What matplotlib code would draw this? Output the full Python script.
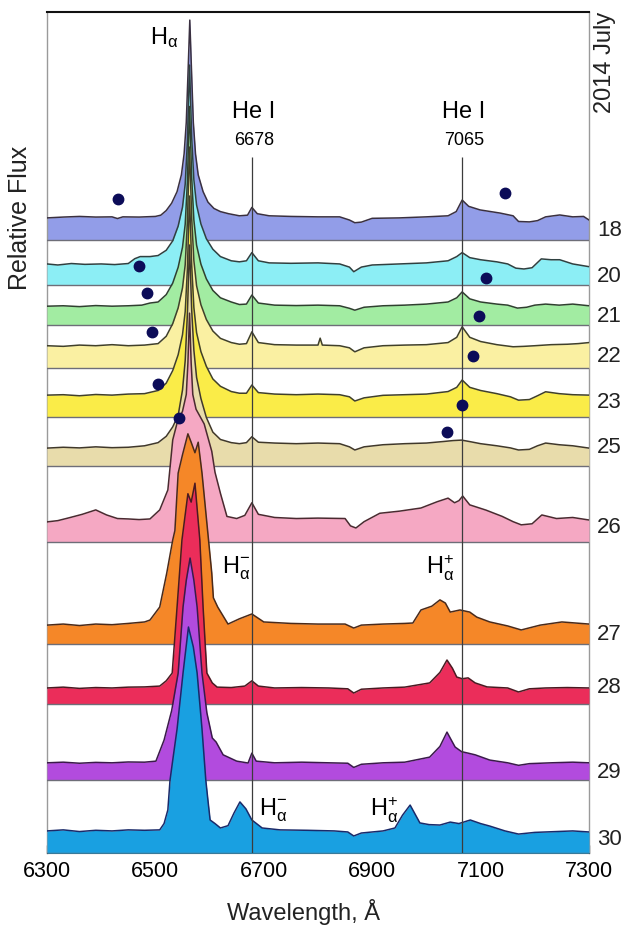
import matplotlib
matplotlib.use('Agg')
import matplotlib.pyplot as plt
from matplotlib.transforms import blended_transform_factory
from matplotlib.ticker import MultipleLocator

FONT = ['Liberation Sans Narrow', 'Liberation Sans', 'DejaVu Sans']
plt.rcParams['font.family'] = FONT
plt.rcParams['mathtext.fontset'] = 'custom'
plt.rcParams['mathtext.rm'] = 'Liberation Sans'
plt.rcParams['mathtext.it'] = 'Liberation Sans'
plt.rcParams['mathtext.sf'] = 'Liberation Sans'

# ---------------- data ----------------
DATES = ['18', '20', '21', '22', '23', '25', '26', '27', '28', '29', '30']
BASELINES = [29.16, 27.02, 25.11, 23.08, 20.75, 18.42, 14.81, 9.94, 7.09, 3.47, 0.0]
LABEL_Y = [29.63, 27.41, 25.54, 23.64, 21.41, 19.27, 15.48, 10.37, 7.85, 3.85, 0.62]
FILL_COLORS = ['#929de8', '#8ceef5', '#a2eca2', '#faf0a2', '#faec48', '#e8dcab',
               '#f5a8c3', '#f58728', '#eb2d5a', '#b24bde', '#19a0e1']
EDGE_COLORS = ['#3a3040', '#2f4040', '#2f402f', '#40402a', '#40402a', '#40382a',
               '#4a2a30', '#4a2a1a', '#4a1a22', '#3a1a4a', '#1a2a6a']

W18 = [6300,6330,6360,6390,6420,6430,6440,6470,6500,6510,6520,6530,6540,6548,6553,6557,6560,6563.5,6567,6570,
       6574,6579,6588,6597,6608,6620,6635,6655,6670,6678,6688,6710,6750,6800,6840,6858,6868,6880,6900,6950,
       7000,7040,7055,7066,7078,7099,7136,7160,7170,7190,7205,7220,7246,7270,7290,7300]
F18 = [1.05,1.09,1.12,1.09,1.10,1.02,1.10,1.09,1.12,1.18,1.40,1.75,2.30,3.10,4.10,5.60,7.80,10.46,7.80,5.60,
       4.10,3.10,2.30,1.80,1.50,1.35,1.25,1.15,1.18,1.55,1.25,1.15,1.12,1.10,1.10,0.95,0.82,0.85,1.03,1.05,
       1.10,1.15,1.35,1.90,1.60,1.43,1.28,1.15,0.88,0.86,0.92,1.10,1.19,1.10,1.12,0.95]

# H-alpha segment wavelengths shared by the 20..25 July spectra
HA_W = [6505,6520,6532,6542,6550,6555,6559,6563,6567,6571,6576,6584,6594,6606,6620,6640]

W20_L = [6300,6320,6345,6370,6400,6425,6450,6462,6472,6490]
F20_L = [1.00,0.95,1.02,0.98,1.00,0.97,1.02,1.25,1.35,1.35]
F20_HA = [1.40,1.65,2.10,2.80,3.70,4.80,6.80,10.46,7.00,5.00,3.80,2.90,2.20,1.70,1.35,1.15]
W20_R = [6655,6668,6678,6690,6710,6750,6800,6840,6858,6866,6880,6900,6950,7000,7040,7056,7066,7080,7100,7130,
         7150,7165,7180,7195,7212,7230,7246,7270,7300]
F20_R = [1.10,1.15,1.54,1.15,1.05,1.03,1.05,1.00,0.85,0.63,0.85,0.95,1.00,1.05,1.15,1.35,1.54,1.30,1.20,1.10,
         1.00,0.80,0.76,0.82,1.24,1.20,1.20,1.00,0.87]

W21_L = [6300,6330,6360,6390,6420,6450,6475,6490]
F21_L = [0.90,0.92,0.88,0.93,0.90,0.92,0.95,1.05]
F21_HA = [1.10,1.45,2.00,2.75,3.70,4.80,6.80,10.40,7.00,5.00,3.80,2.90,2.20,1.65,1.30,1.10]
W21_R = [6655,6668,6678,6690,6720,6760,6800,6840,6858,6868,6885,6920,6960,7000,7040,7056,7066,7080,7100,7130,
         7150,7168,7185,7200,7220,7245,7270,7300]
F21_R = [0.98,1.00,1.43,1.05,0.95,0.93,0.95,0.92,0.80,0.71,0.85,0.92,0.95,1.00,1.10,1.30,1.58,1.25,1.10,1.00,
         0.95,0.81,0.85,0.95,1.00,0.95,1.00,0.92]

W22_L = [6300,6330,6360,6390,6420,6450,6480]
F22_L = [1.05,1.02,1.08,1.05,1.10,1.05,1.08]
F22_HA = [1.15,1.50,2.10,2.85,3.80,4.90,6.90,10.50,7.10,5.10,3.90,3.00,2.30,1.75,1.40,1.20]
W22_R = [6655,6668,6678,6690,6720,6760,6800,6804,6808,6840,6858,6868,6885,6920,6960,7000,7040,7056,7066,7080,
         7100,7130,7160,7180,7200,7230,7260,7280,7300]
F22_R = [1.12,1.15,1.71,1.20,1.10,1.08,1.08,1.41,1.08,1.05,0.95,0.76,0.95,1.05,1.08,1.10,1.20,1.45,1.95,1.45,
         1.25,1.10,1.00,1.02,1.05,1.10,1.12,1.15,1.20]

W23_L = [6300,6330,6360,6390,6420,6450,6480]
F23_L = [1.03,1.05,1.00,1.06,1.03,1.08,1.10]
F23_HA = [1.25,1.60,2.20,2.95,3.90,5.00,7.00,10.50,7.20,5.20,4.00,3.10,2.40,1.80,1.45,1.20]
W23_R = [6655,6668,6678,6690,6720,6760,6800,6840,6858,6868,6885,6920,6960,7000,7040,7056,7066,7080,7100,7130,
         7155,7170,7190,7205,7220,7245,7270,7300]
F23_R = [1.12,1.12,1.51,1.15,1.08,1.05,1.08,1.05,0.95,0.75,0.90,1.02,1.05,1.08,1.20,1.40,1.75,1.40,1.25,1.10,
         0.95,0.79,0.82,1.00,1.19,1.10,1.05,1.03]

W25_L = [6300,6330,6360,6390,6420,6450,6480]
F25_L = [0.84,0.88,0.85,0.90,0.86,0.88,0.95]
F25_HA = [1.10,1.40,1.85,2.40,3.60,5.00,7.20,10.50,7.40,5.50,4.20,3.20,2.30,1.60,1.25,1.10]
W25_R = [6655,6668,6678,6690,6720,6760,6800,6840,6858,6868,6885,6920,6960,7000,7030,7050,7065,7080,7100,7130,
         7155,7170,7190,7205,7220,7245,7270,7300]
F25_R = [1.05,1.10,1.38,1.12,1.08,1.05,1.08,1.05,0.90,0.75,0.90,1.00,1.05,1.08,1.15,1.20,1.22,1.15,1.05,0.95,
         0.85,0.75,0.78,0.95,1.08,1.00,0.95,0.84]

W26 = [6300,6320,6340,6365,6390,6410,6430,6450,6470,6490,6508,6523,6532,6540,6550,6557,6560,6563,6566,6569,
       6575,6590,6604,6610,6620,6632,6650,6665,6678,6690,6720,6760,6800,6850,6860,6870,6885,6914,6950,6990,
       7020,7040,7052,7060,7067,7080,7110,7140,7160,7175,7195,7213,7240,7270,7300]
F26 = [0.94,1.00,1.13,1.30,1.51,1.27,1.10,1.08,1.05,1.08,1.51,2.46,4.84,5.64,6.20,7.00,8.50,10.87,8.50,7.00,
       6.30,5.60,4.30,3.30,2.30,1.20,1.10,1.25,1.85,1.30,1.15,1.10,1.12,1.10,0.75,0.65,0.95,1.35,1.45,1.60,
       1.90,2.07,1.85,1.95,2.17,1.75,1.50,1.20,0.95,0.80,0.85,1.27,1.10,1.15,1.03]

W27 = [6300,6330,6360,6390,6420,6450,6480,6490,6508,6521,6532,6536,6542,6550,6560,6566,6573,6579,6586,6595,
       6604,6607,6615,6634,6655,6678,6700,6750,6800,6850,6866,6880,6920,6960,6975,6990,7010,7025,7035,7044,
       7062,7080,7093,7117,7150,7175,7210,7250,7300]
F27 = [0.90,0.95,0.88,0.95,0.92,0.98,1.05,1.14,1.76,3.38,4.95,5.40,8.13,9.00,10.0,9.60,9.10,9.60,8.13,5.75,
       3.38,2.20,1.76,0.95,1.20,1.43,1.05,0.98,0.95,0.95,0.76,0.90,0.95,0.98,1.00,1.62,1.80,2.10,1.95,1.52,
       1.62,1.52,1.28,1.05,0.86,0.67,0.90,1.05,0.95]

W28 = [6300,6330,6360,6390,6420,6450,6480,6508,6520,6531,6540,6549,6560,6566,6573,6582,6588,6595,6605,6614,
       6640,6665,6678,6690,6720,6770,6820,6855,6866,6880,6920,6960,7006,7025,7038,7048,7056,7066,7077,7090,
       7112,7150,7170,7190,7220,7260,7300]
F28 = [0.76,0.80,0.74,0.78,0.76,0.80,0.81,0.85,1.10,1.47,4.61,7.80,10.0,9.60,10.5,7.80,4.61,1.47,1.00,0.80,
       0.78,0.85,1.10,0.85,0.76,0.78,0.76,0.72,0.52,0.70,0.76,0.80,1.00,1.50,2.09,1.70,1.28,1.20,1.24,1.00,
       0.81,0.76,0.57,0.72,0.76,0.78,0.76]

W29 = [6300,6330,6360,6390,6420,6450,6480,6501,6516,6530,6542,6551,6557,6564,6571,6577,6586,6595,6605,6612,
       6625,6650,6671,6678,6686,6720,6770,6820,6855,6866,6880,6920,6960,7006,7025,7038,7046,7053,7065,7077,
       7090,7117,7150,7170,7190,7230,7270,7300]
F29 = [0.82,0.85,0.80,0.84,0.82,0.86,0.85,0.90,1.90,3.30,5.09,8.23,9.50,10.56,9.50,8.23,5.09,3.20,2.00,1.81,
       1.20,0.90,0.81,1.28,0.90,0.82,0.85,0.82,0.80,0.60,0.75,0.82,0.85,1.09,1.60,2.28,1.90,1.57,1.35,1.28,
       1.20,0.95,0.82,0.70,0.78,0.82,0.85,0.82]

W30 = [6300,6330,6360,6390,6420,6450,6480,6508,6516,6523,6527,6533,6540,6551,6561,6570,6577,6586,6593,6597,
       6601,6610,6620,6634,6645,6656,6667,6678,6697,6730,6780,6830,6855,6866,6880,6920,6942,6956,6970,6988,
       7005,7025,7044,7060,7081,7100,7117,7145,7170,7200,7240,7270,7300]
F30 = [1.05,1.10,1.02,1.08,1.05,1.10,1.08,1.10,1.40,2.05,3.47,4.60,5.90,8.56,10.75,9.80,8.56,5.90,3.47,2.50,
       1.57,1.40,1.19,1.30,1.90,2.43,2.10,1.57,1.19,1.10,1.08,1.05,1.00,0.81,0.95,1.05,1.19,1.80,2.28,1.43,
       1.35,1.33,1.47,1.40,1.57,1.40,1.28,1.05,0.90,0.98,1.02,1.05,1.00]

W20 = W20_L + HA_W + W20_R
F20 = F20_L + F20_HA + F20_R
W21 = W21_L + HA_W + W21_R
F21 = F21_L + F21_HA + F21_R
W22 = W22_L + HA_W + W22_R
F22 = F22_L + F22_HA + F22_R
W23 = W23_L + HA_W + W23_R
F23 = F23_L + F23_HA + F23_R
W25 = W25_L + HA_W + W25_R
F25 = F25_L + F25_HA + F25_R

WAVES = [W18, W20, W21, W22, W23, W25, W26, W27, W28, W29, W30]
FLUXES = [F18, F20, F21, F22, F23, F25, F26, F27, F28, F29, F30]

DOT_WL = [6431, 7145, 6470, 7110, 6485, 7097, 6494, 7086, 6505, 7066, 6544, 7038]
DOT_Y = [31.1, 31.4, 27.93, 27.36, 26.65, 25.54, 24.79, 23.64, 22.31, 21.31, 20.7, 20.04]

HEI_LINES = [6678, 7065]
HEI_LABELS = ['6678', '7065']
XTICKS = [6300, 6500, 6700, 6900, 7100, 7300]

# ---------------- figure ----------------
fig = plt.figure(figsize=(6.29, 9.30), dpi=100)
ax = fig.add_axes([0.0747, 0.0828, 0.8617, 0.9042])
ax.set_xlim(6300, 7300)
ax.set_ylim(0, 40)

for i in range(len(DATES)):
    base = BASELINES[i]
    W = WAVES[i]
    y = [base + f for f in FLUXES[i]]
    z = 2 + 3 * i
    ax.fill_between(W, base, y, color=FILL_COLORS[i], lw=0, zorder=z)
    ax.plot(W, y, color=EDGE_COLORS[i], lw=1.1, zorder=z + 1, solid_joinstyle='round')
    ax.plot([6300, 7300], [base, base], color='#6e6e78', lw=1.0, zorder=z + 1)

ax.vlines(HEI_LINES, 0, 33.1, color='#3c3c3c', lw=0.9, zorder=60)
ax.plot(DOT_WL, DOT_Y, 'o', color='#0c0c58', ms=7.5, zorder=80)

tr = blended_transform_factory(ax.transAxes, ax.transData)
for lab, yy in zip(DATES, LABEL_Y):
    ax.text(1.015, yy, lab, transform=tr, ha='left', va='center', fontsize=16, color='#222222')

ax.text(6516, 38.8, r'H$_{\alpha}$', fontsize=17, ha='center', va='center', zorder=90)
for wl, lab in zip(HEI_LINES, HEI_LABELS):
    ax.text(wl + 4, 35.24, 'He I', fontsize=17, ha='center', va='center', zorder=90)
    ax.text(wl + 4, 33.91, lab, fontsize=13, ha='center', va='center', zorder=90)

ax.text(6649, 13.55, r'H$_{\alpha}^{-}$', fontsize=17, ha='center', va='center', zorder=90)
ax.text(7025, 13.55, r'H$_{\alpha}^{+}$', fontsize=17, ha='center', va='center', zorder=90)
ax.text(6718, 2.05, r'H$_{\alpha}^{-}$', fontsize=17, ha='center', va='center', zorder=90)
ax.text(6922, 2.05, r'H$_{\alpha}^{+}$', fontsize=17, ha='center', va='center', zorder=90)

ax.set_xticks(XTICKS)
ax.xaxis.set_minor_locator(MultipleLocator(100))
ax.tick_params(axis='x', which='both', direction='in', length=6, width=1, color='#444444',
               top=False, labelsize=15.5, pad=6)
ax.set_yticks([])
for s in ['left', 'right']:
    ax.spines[s].set_color('#9a9a9a')
    ax.spines[s].set_linewidth(1.0)
ax.spines['top'].set_color('#111111')
ax.spines['top'].set_linewidth(1.5)
ax.spines['bottom'].set_color('#555555')

fig.text(0.962, 0.933, '2014 July', rotation=90, fontsize=17, ha='center', va='center', color='#222222')
fig.text(0.032, 0.766, 'Relative Flux', rotation=90, fontsize=18, ha='center', va='center', color='#222222')
fig.text(0.482, 0.019, 'Wavelength, Å', fontsize=17, ha='center', va='center', color='#222222')

fig.savefig('out.png', dpi=100)
